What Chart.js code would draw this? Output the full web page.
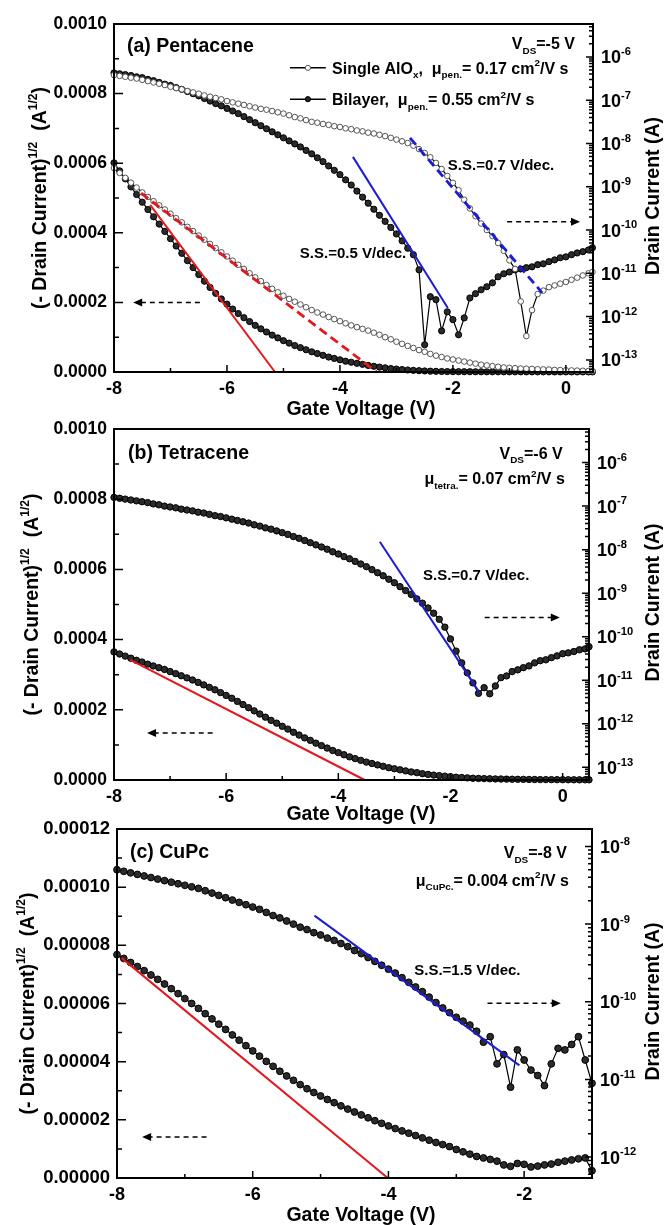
<!DOCTYPE html>
<html>
<head>
<meta charset="utf-8">
<script src="https://cdn.jsdelivr.net/npm/chart.js@4.4.1/dist/chart.umd.min.js"></script>
<style>
html, body { margin: 0; padding: 0; background: #fff; }
#page { position: relative; width: 667px; height: 1225px; overflow: hidden; }
canvas { position: absolute; left: 0; }
</style>
</head>
<body>
<div id="page">
<canvas id="panelA" width="667" height="425" style="top:0"></canvas>
<canvas id="panelB" width="667" height="425" style="top:405px"></canvas>
<canvas id="panelC" width="667" height="420" style="top:805px"></canvas>
</div>
<script>
const FONT = '"Liberation Sans", Arial, sans-serif';
const RED = '#e3171d';
const BLUE = '#1c1cd4';

// gate voltage sweeps (V)
const vgAB = [-8,-7.9,-7.8,-7.7,-7.6,-7.5,-7.4,-7.3,-7.2,-7.1,-7,-6.9,-6.8,-6.7,-6.6,-6.5,-6.4,-6.3,-6.2,-6.1,
  -6,-5.9,-5.8,-5.7,-5.6,-5.5,-5.4,-5.3,-5.2,-5.1,-5,-4.9,-4.8,-4.7,-4.6,-4.5,-4.4,-4.3,-4.2,-4.1,
  -4,-3.9,-3.8,-3.7,-3.6,-3.5,-3.4,-3.3,-3.2,-3.1,-3,-2.9,-2.8,-2.7,-2.6,-2.5,-2.4,-2.3,-2.2,-2.1,
  -2,-1.9,-1.8,-1.7,-1.6,-1.5,-1.4,-1.3,-1.2,-1.1,-1,-0.9,-0.8,-0.7,-0.6,-0.5,-0.4,-0.3,-0.2,-0.1,
  0,0.1,0.2,0.3,0.4,0.47];
const vgC = [-8,-7.9,-7.8,-7.7,-7.6,-7.5,-7.4,-7.3,-7.2,-7.1,-7,-6.9,-6.8,-6.7,-6.6,-6.5,-6.4,-6.3,-6.2,-6.1,
  -6,-5.9,-5.8,-5.7,-5.6,-5.5,-5.4,-5.3,-5.2,-5.1,-5,-4.9,-4.8,-4.7,-4.6,-4.5,-4.4,-4.3,-4.2,-4.1,
  -4,-3.9,-3.8,-3.7,-3.6,-3.5,-3.4,-3.3,-3.2,-3.1,-3,-2.9,-2.8,-2.7,-2.6,-2.5,-2.4,-2.3,-2.2,-2.1,
  -2,-1.9,-1.8,-1.7,-1.6,-1.5,-1.4,-1.3,-1.2,-1.1,-1];

// (a) pentacene: log10(-Id) and sqrt(-Id) in 1e-4 A^1/2
const aSingleLog = [-6.42,-6.44,-6.46,-6.48,-6.50,-6.53,-6.56,-6.59,-6.62,-6.65,
  -6.69,-6.72,-6.75,-6.79,-6.82,-6.85,-6.89,-6.92,-6.95,-6.98,
  -7.02,-7.05,-7.08,-7.11,-7.14,-7.17,-7.20,-7.22,-7.25,-7.28,
  -7.31,-7.35,-7.39,-7.42,-7.46,-7.50,-7.52,-7.55,-7.57,-7.60,
  -7.62,-7.65,-7.67,-7.70,-7.72,-7.75,-7.77,-7.80,-7.83,-7.87,
  -7.91,-7.95,-7.99,-8.05,-8.13,-8.22,-8.32,-8.45,-8.59,-8.75,
  -8.91,-9.08,-9.30,-9.50,-9.68,-9.85,-10.00,-10.14,-10.30,-10.48,
  -10.70,-10.90,-11.65,-12.45,-11.85,-11.48,-11.40,-11.32,-11.28,-11.24,
  -11.20,-11.15,-11.10,-11.05,-11.00,-10.97];
const aBilayerLog = [-6.37,-6.39,-6.41,-6.43,-6.46,-6.48,-6.52,-6.55,-6.59,-6.63,
  -6.66,-6.71,-6.75,-6.80,-6.85,-6.90,-6.96,-7.02,-7.08,-7.13,
  -7.19,-7.25,-7.31,-7.38,-7.45,-7.52,-7.59,-7.66,-7.73,-7.80,
  -7.87,-7.94,-8.01,-8.08,-8.16,-8.24,-8.33,-8.42,-8.52,-8.62,
  -8.72,-8.84,-8.96,-9.10,-9.24,-9.38,-9.52,-9.66,-9.80,-9.94,
  -10.09,-10.25,-10.42,-10.57,-10.92,-12.65,-11.54,-11.61,-12.33,-11.89,
  -12.07,-12.42,-12.03,-11.57,-11.47,-11.38,-11.31,-11.22,-11.08,-11.01,
  -10.97,-10.92,-10.90,-10.87,-10.85,-10.80,-10.78,-10.73,-10.69,-10.64,
  -10.62,-10.57,-10.53,-10.50,-10.46,-10.41];
const aSingleSqrt = [5.86,5.72,5.58,5.44,5.30,5.16,5.03,4.91,4.79,4.67,
  4.55,4.42,4.30,4.17,4.05,3.92,3.80,3.68,3.56,3.44,
  3.32,3.20,3.08,2.96,2.84,2.72,2.61,2.50,2.39,2.29,
  2.19,2.10,2.02,1.94,1.86,1.78,1.71,1.65,1.58,1.52,
  1.46,1.40,1.34,1.29,1.24,1.19,1.13,1.07,1.00,0.94,
  0.87,0.81,0.75,0.69,0.63,0.58,0.52,0.47,0.43,0.39,
  0.36,0.33,0.30,0.27,0.24,0.21,0.19,0.17,0.15,0.13,
  0.12,0.11,0.10,0.095,0.09,0.08,0.075,0.07,0.06,0.055,
  0.05,0.045,0.04,0.035,0.03,0.03];
const aBilayerSqrt = [6.01,5.78,5.55,5.32,5.10,4.88,4.67,4.46,4.25,4.04,
  3.83,3.62,3.41,3.20,3.00,2.80,2.61,2.43,2.26,2.10,
  1.95,1.81,1.68,1.56,1.45,1.34,1.24,1.15,1.06,0.98,
  0.90,0.83,0.76,0.70,0.64,0.58,0.53,0.48,0.43,0.39,
  0.35,0.31,0.28,0.25,0.22,0.19,0.165,0.14,0.12,0.10,
  0.085,0.07,0.058,0.047,0.038,0.03,0.024,0.019,0.015,0.012,
  0.010,0.009,0.008,0.008,0.007,0.007,0.006,0.006,0.006,0.005,
  0.005,0.005,0.005,0.004,0.004,0.004,0.004,0.004,0.003,0.003,
  0.003,0.003,0.003,0.003,0.003,0.003];

// (b) tetracene
const bLog = [-6.80,-6.82,-6.84,-6.86,-6.88,-6.90,-6.92,-6.95,-6.97,-7.00,
  -7.02,-7.04,-7.07,-7.09,-7.11,-7.14,-7.16,-7.19,-7.22,-7.24,
  -7.27,-7.30,-7.33,-7.36,-7.39,-7.43,-7.46,-7.50,-7.53,-7.57,
  -7.61,-7.65,-7.70,-7.74,-7.79,-7.84,-7.89,-7.94,-7.99,-8.05,
  -8.10,-8.16,-8.21,-8.27,-8.33,-8.39,-8.46,-8.53,-8.60,-8.68,
  -8.76,-8.85,-8.94,-9.03,-9.13,-9.23,-9.34,-9.46,-9.60,-9.78,
  -10.05,-10.33,-10.60,-10.83,-11.06,-11.30,-11.17,-11.31,-11.13,-10.94,
  -10.90,-10.80,-10.76,-10.71,-10.67,-10.60,-10.55,-10.53,-10.48,-10.44,
  -10.39,-10.37,-10.34,-10.30,-10.28,-10.23];
const bSqrt = [3.65,3.59,3.53,3.47,3.41,3.36,3.30,3.25,3.20,3.15,
  3.09,3.03,2.97,2.91,2.85,2.78,2.71,2.64,2.57,2.49,
  2.41,2.33,2.24,2.15,2.06,1.97,1.88,1.79,1.70,1.62,
  1.53,1.45,1.36,1.28,1.20,1.13,1.05,0.98,0.91,0.84,
  0.78,0.72,0.66,0.61,0.56,0.51,0.47,0.43,0.39,0.35,
  0.32,0.29,0.26,0.23,0.21,0.18,0.16,0.14,0.125,0.11,
  0.095,0.08,0.07,0.06,0.05,0.045,0.04,0.035,0.03,0.028,
  0.025,0.022,0.02,0.018,0.016,0.014,0.012,0.011,0.01,0.009,
  0.008,0.007,0.006,0.005,0.005,0.005];

// (c) CuPc, sqrt(-Id) in 1e-5 A^1/2
const cLog = [-8.30,-8.32,-8.34,-8.36,-8.38,-8.40,-8.42,-8.44,-8.46,-8.48,
  -8.50,-8.52,-8.54,-8.57,-8.60,-8.63,-8.66,-8.69,-8.72,-8.75,
  -8.78,-8.81,-8.85,-8.89,-8.92,-8.96,-9.00,-9.04,-9.07,-9.11,
  -9.14,-9.18,-9.21,-9.25,-9.29,-9.34,-9.38,-9.43,-9.48,-9.53,
  -9.58,-9.63,-9.69,-9.75,-9.81,-9.87,-9.94,-10.01,-10.08,-10.14,
  -10.20,-10.25,-10.30,-10.38,-10.52,-10.45,-10.80,-10.68,-11.10,-10.62,
  -10.75,-10.88,-10.95,-11.08,-10.80,-10.60,-10.62,-10.55,-10.45,-10.75,
  -11.05];
const cSqrt = [7.68,7.55,7.41,7.27,7.13,6.98,6.83,6.67,6.51,6.34,
  6.17,6.00,5.83,5.65,5.47,5.29,5.11,4.92,4.74,4.55,
  4.37,4.19,4.01,3.84,3.67,3.51,3.36,3.21,3.07,2.94,
  2.82,2.70,2.59,2.48,2.37,2.27,2.17,2.07,1.97,1.88,
  1.79,1.70,1.62,1.54,1.46,1.38,1.30,1.22,1.15,1.08,
  0.98,0.90,0.82,0.74,0.69,0.64,0.58,0.45,0.40,0.50,
  0.47,0.38,0.41,0.45,0.48,0.54,0.58,0.62,0.66,0.69,
  0.25];

// fitted lines, [[V, y], [V, y]]; sqrt fits in the panel's unit, S.S. fits in log10(A)
const aRedBilayer = [[-7.36, 4.80], [-5.15, 0]];
const aRedSingle = [[-7.52, 5.14], [-3.35, 0]];
const aBlueBilayer = [[-3.77, -8.31], [-2.09, -11.80]];
const aBlueSingle = [[-2.76, -7.87], [-0.42, -11.45]];
const bRed = [[-7.71, 3.42], [-3.53, 0]];
const bBlue = [[-3.26, -7.82], [-1.48, -11.29]];
const cRed = [[-7.93, 7.56], [-4.01, 0]];
const cBlue = [[-5.09, -8.89], [-2.07, -10.82]];

// labelled decades on the right-hand log axes
const decadesAB = [-13, -12, -11, -10, -9, -8, -7, -6];
const decadesC = [-12, -11, -10, -9, -8];

function sqrtPts(xs, ys, unit) { return xs.map((x, i) => ({ x, y: ys[i] * unit })); }
function logPts(xs, ys) { return xs.map((x, i) => ({ x, y: Math.pow(10, ys[i]) })); }

function curve(data, axis, open, r) {
  return {
    data, yAxisID: axis, order: 2, showLine: true, tension: 0, clip: false,
    borderColor: '#000', borderWidth: 1.2,
    pointRadius: r,
    pointBackgroundColor: open ? '#fff' : '#2b2b2b',
    pointBorderColor: open ? '#555' : '#000',
    pointBorderWidth: 1
  };
}

function fitLine(pair, axis, color, dashed, unit) {
  const data = pair.map(p => ({ x: p[0], y: unit ? p[1] * unit : Math.pow(10, p[1]) }));
  return {
    data, yAxisID: axis, order: 1, showLine: true, pointRadius: 0, clip: false,
    borderColor: color, borderWidth: dashed ? 2.8 : 2,
    borderDash: dashed ? [9, 5] : []
  };
}

// text with sub/superscripts; parts are strings or [text, 'sub'|'sup']
function drawRich(ctx, parts, x, y, size, align) {
  const small = size * 0.62;
  const items = parts.map(p => typeof p === 'string'
    ? { t: p, f: size, dy: 0 }
    : { t: p[0], f: small, dy: p[1] === 'sub' ? size * 0.3 : -size * 0.45 });
  let w = 0;
  items.forEach(it => { ctx.font = 'bold ' + it.f + 'px ' + FONT; it.w = ctx.measureText(it.t).width; w += it.w; });
  let cx = align === 'right' ? x - w : align === 'center' ? x - w / 2 : x;
  ctx.textAlign = 'left';
  ctx.textBaseline = 'alphabetic';
  items.forEach(it => {
    ctx.font = 'bold ' + it.f + 'px ' + FONT;
    ctx.fillText(it.t, cx, y + it.dy);
    cx += it.w;
  });
}

function arrow(ctx, x0, x1, y) {
  const dir = Math.sign(x1 - x0);
  ctx.save();
  ctx.lineWidth = 1.5;
  ctx.setLineDash([5, 4]);
  ctx.beginPath();
  ctx.moveTo(x0, y);
  ctx.lineTo(x1 - dir * 7, y);
  ctx.stroke();
  ctx.setLineDash([]);
  ctx.beginPath();
  ctx.moveTo(x1, y);
  ctx.lineTo(x1 - dir * 9, y - 4);
  ctx.lineTo(x1 - dir * 9, y + 4);
  ctx.closePath();
  ctx.fill();
  ctx.restore();
}

const yTitle = ['(- Drain Current)', ['1/2', 'sup'], '  (A', ['1/2', 'sup'], ')'];

const panelDeco = {
  id: 'panelDeco',
  afterDatasetsDraw(chart, args, o) {
    const ctx = chart.ctx, a = chart.chartArea;
    const sx = chart.scales.x, sy = chart.scales.y, sr = chart.scales.y2;
    const yOf = (axis, v) => (axis === 'y2' ? sr : sy).getPixelForValue(v);
    ctx.save();
    ctx.strokeStyle = '#000';
    ctx.fillStyle = '#000';

    // frame
    ctx.lineWidth = 2;
    ctx.strokeRect(a.left, a.top, a.right - a.left, a.bottom - a.top);

    // inward tick marks
    ctx.lineWidth = 1.5;
    ctx.beginPath();
    const xt = sx.ticks.map(t => t.value), xStep = xt[1] - xt[0];
    xt.forEach(v => { const p = sx.getPixelForValue(v); ctx.moveTo(p, a.bottom); ctx.lineTo(p, a.bottom - 7); });
    xt.concat([xt[xt.length - 1] + xStep]).forEach(v => {
      const m = v - xStep / 2;
      if (m > sx.min && m < sx.max - 0.05) { const p = sx.getPixelForValue(m); ctx.moveTo(p, a.bottom); ctx.lineTo(p, a.bottom - 4); }
    });
    const yt = sy.ticks.map(t => t.value), yStep = yt[1] - yt[0];
    yt.forEach(v => { const p = sy.getPixelForValue(v); ctx.moveTo(a.left, p); ctx.lineTo(a.left + 9, p); });
    yt.forEach(v => {
      const m = v + yStep / 2;
      if (m < sy.max) { const p = sy.getPixelForValue(m); ctx.moveTo(a.left, p); ctx.lineTo(a.left + 5, p); }
    });
    const eLo = Math.floor(Math.log10(sr.min)), eHi = Math.ceil(Math.log10(sr.max));
    for (let e = eLo; e <= eHi; e++) {
      for (let m = 1; m <= 9; m++) {
        const v = m * Math.pow(10, e);
        if (v < sr.min || v > sr.max) continue;
        const p = sr.getPixelForValue(v);
        ctx.moveTo(a.right, p);
        ctx.lineTo(a.right - (m === 1 ? 7 : 4), p);
      }
    }
    ctx.stroke();

    // right axis labels 10^n
    o.decades.forEach(e => {
      const p = sr.getPixelForValue(Math.pow(10, e));
      drawRich(ctx, ['10', [String(e), 'sup']], a.right + 8, p + 6.5, 18, 'left');
    });

    // axis titles
    drawRich(ctx, ['Gate Voltage (V)'], 361, o.xTitleY + 7, 19.5, 'center');
    ctx.save();
    ctx.translate(o.yTitleX, (a.top + a.bottom) / 2);
    ctx.rotate(-Math.PI / 2);
    drawRich(ctx, yTitle, 0, 7, 19.5, 'center');
    ctx.restore();
    ctx.save();
    ctx.translate(652, (a.top + a.bottom) / 2 - 2);
    ctx.rotate(-Math.PI / 2);
    drawRich(ctx, ['Drain Current (A)'], 0, 7, 19.5, 'center');
    ctx.restore();

    // annotations
    o.notes.forEach(n => {
      drawRich(ctx, n.parts, sx.getPixelForValue(n.x), yOf('y', n.y) + n.size * 0.36, n.size, n.align || 'left');
    });
    (o.legend || []).forEach(l => {
      const y = yOf('y', l.y);
      ctx.lineWidth = 1.5;
      ctx.beginPath();
      ctx.moveTo(sx.getPixelForValue(l.x0), y);
      ctx.lineTo(sx.getPixelForValue(l.x1), y);
      ctx.stroke();
      ctx.beginPath();
      ctx.arc(sx.getPixelForValue((l.x0 + l.x1) / 2), y, 2.6, 0, Math.PI * 2);
      ctx.fillStyle = l.open ? '#fff' : '#222';
      ctx.fill();
      ctx.lineWidth = 1;
      ctx.strokeStyle = l.open ? '#555' : '#000';
      ctx.stroke();
      ctx.fillStyle = '#000';
      ctx.strokeStyle = '#000';
    });
    o.arrows.forEach(ar => {
      arrow(ctx, sx.getPixelForValue(ar.from), sx.getPixelForValue(ar.to), yOf(ar.axis, ar.y));
    });
    ctx.restore();
  }
};

function makePanel(id, p) {
  const tickFont = { family: FONT, size: p.tickSize, weight: 'bold' };
  return new Chart(document.getElementById(id), {
    type: 'line',
    data: { datasets: p.datasets },
    options: {
      responsive: false,
      animation: false,
      devicePixelRatio: 1,
      events: [],
      layout: { padding: { top: 24, left: 0, right: 0, bottom: 0 } },
      plugins: { legend: { display: false }, tooltip: { enabled: false }, panelDeco: p.deco },
      scales: {
        x: {
          type: 'linear', min: -8, max: p.xMax,
          grid: { display: false, drawTicks: false }, border: { display: false },
          ticks: { stepSize: 2, includeBounds: false, padding: 6, maxRotation: 0, color: '#000',
                   font: { family: FONT, size: 18, weight: 'bold' }, callback: v => String(v) },
          afterFit: s => { s.height = p.xH; }
        },
        y: {
          type: 'linear', position: 'left', min: 0, max: p.yMax,
          grid: { display: false, drawTicks: false }, border: { display: false },
          ticks: { stepSize: p.yStep, includeBounds: false, padding: 7, color: '#000', font: tickFont,
                   callback: v => v.toFixed(p.decimals) },
          afterFit: s => { s.width = p.leftW; }
        },
        y2: {
          type: 'logarithmic', position: 'right',
          min: Math.pow(10, p.logMin), max: Math.pow(10, p.logMax),
          grid: { display: false, drawTicks: false }, border: { display: false },
          ticks: { display: false },
          afterFit: s => { s.width = p.rightW; }
        }
      }
    },
    plugins: [panelDeco]
  });
}

makePanel('panelA', {
  xMax: 0.48, yMax: 0.001, yStep: 0.0002, decimals: 4, tickSize: 17.5,
  logMin: -13.28, logMax: -5.24, xH: 53, leftW: 114, rightW: 74,
  datasets: [
    fitLine(aRedBilayer, 'y', RED, false, 1e-4),
    fitLine(aRedSingle, 'y', RED, true, 1e-4),
    fitLine(aBlueBilayer, 'y2', BLUE, false),
    fitLine(aBlueSingle, 'y2', BLUE, true),
    curve(logPts(vgAB, aSingleLog), 'y2', true, 2.8),
    curve(logPts(vgAB, aBilayerLog), 'y2', false, 3.1),
    curve(sqrtPts(vgAB, aSingleSqrt, 1e-4), 'y', true, 2.8),
    curve(sqrtPts(vgAB, aBilayerSqrt, 1e-4), 'y', false, 3.1)
  ],
  deco: {
    decades: decadesAB, xTitleY: 408, yTitleX: 39,
    notes: [
      { x: -7.77, y: 9.40e-4, size: 19.5, parts: ['(a) Pentacene'] },
      { x: 0.16, y: 9.45e-4, size: 16, align: 'right', parts: ['V', ['DS', 'sub'], '=-5 V'] },
      { x: -4.14, y: 8.74e-4, size: 16, parts: ['Single AlO', ['x', 'sub'], ',  \u03bc', ['pen.', 'sub'], '= 0.17 cm', ['2', 'sup'], '/V s'] },
      { x: -4.14, y: 7.84e-4, size: 16, parts: ['Bilayer,  \u03bc', ['pen.', 'sub'], '= 0.55 cm', ['2', 'sup'], '/V s'] },
      { x: -2.09, y: 5.95e-4, size: 15, parts: ['S.S.=0.7 V/dec.'] },
      { x: -4.71, y: 3.42e-4, size: 15, parts: ['S.S.=0.5 V/dec.'] }
    ],
    legend: [
      { x0: -4.885, x1: -4.25, y: 8.74e-4, open: true },
      { x0: -4.885, x1: -4.25, y: 7.84e-4, open: false }
    ],
    arrows: [
      { axis: 'y', y: 2.0e-4, from: -6.48, to: -7.66 },
      { axis: 'y2', y: Math.pow(10, -9.81), from: -1.04, to: 0.25 }
    ]
  }
});

makePanel('panelB', {
  xMax: 0.47, yMax: 0.001, yStep: 0.0002, decimals: 4, tickSize: 17.5,
  logMin: -13.29, logMax: -5.23, xH: 50, leftW: 114, rightW: 78,
  datasets: [
    fitLine(bRed, 'y', RED, false, 1e-4),
    fitLine(bBlue, 'y2', BLUE, false),
    curve(logPts(vgAB, bLog), 'y2', false, 3.2),
    curve(sqrtPts(vgAB, bSqrt, 1e-4), 'y', false, 3.2)
  ],
  deco: {
    decades: decadesAB, xTitleY: 408, yTitleX: 31,
    notes: [
      { x: -7.75, y: 9.34e-4, size: 19.5, parts: ['(b) Tetracene'] },
      { x: 0.0, y: 9.32e-4, size: 16, align: 'right', parts: ['V', ['DS', 'sub'], '=-6 V'] },
      { x: 0.04, y: 8.60e-4, size: 16, align: 'right', parts: ['\u03bc', ['tetra.', 'sub'], '= 0.07 cm', ['2', 'sup'], '/V s'] },
      { x: -2.49, y: 5.84e-4, size: 15, parts: ['S.S.=0.7 V/dec.'] }
    ],
    arrows: [
      { axis: 'y', y: 1.34e-4, from: -6.24, to: -7.41 },
      { axis: 'y2', y: Math.pow(10, -9.56), from: -1.39, to: -0.05 }
    ]
  }
});

makePanel('panelC', {
  xMax: -1, yMax: 0.00012, yStep: 0.00002, decimals: 5, tickSize: 18.5,
  logMin: -12.27, logMax: -7.775, xH: 47, leftW: 117, rightW: 75,
  datasets: [
    fitLine(cRed, 'y', RED, false, 1e-5),
    fitLine(cBlue, 'y2', BLUE, false),
    curve(logPts(vgC, cLog), 'y2', false, 3.4),
    curve(sqrtPts(vgC, cSqrt, 1e-5), 'y', false, 3.4)
  ],
  deco: {
    decades: decadesC, xTitleY: 409, yTitleX: 27,
    notes: [
      { x: -7.81, y: 11.24e-5, size: 19.5, parts: ['(c) CuPc'] },
      { x: -1.37, y: 11.21e-5, size: 16, align: 'right', parts: ['V', ['DS', 'sub'], '=-8 V'] },
      { x: -1.34, y: 10.25e-5, size: 16, align: 'right', parts: ['\u03bc', ['CuPc.', 'sub'], '= 0.004 cm', ['2', 'sup'], '/V s'] },
      { x: -3.62, y: 7.15e-5, size: 15, parts: ['S.S.=1.5 V/dec.'] }
    ],
    arrows: [
      { axis: 'y', y: 1.41e-5, from: -6.68, to: -7.63 },
      { axis: 'y2', y: Math.pow(10, -10.02), from: -2.54, to: -1.46 }
    ]
  }
});
</script>
</body>
</html>
